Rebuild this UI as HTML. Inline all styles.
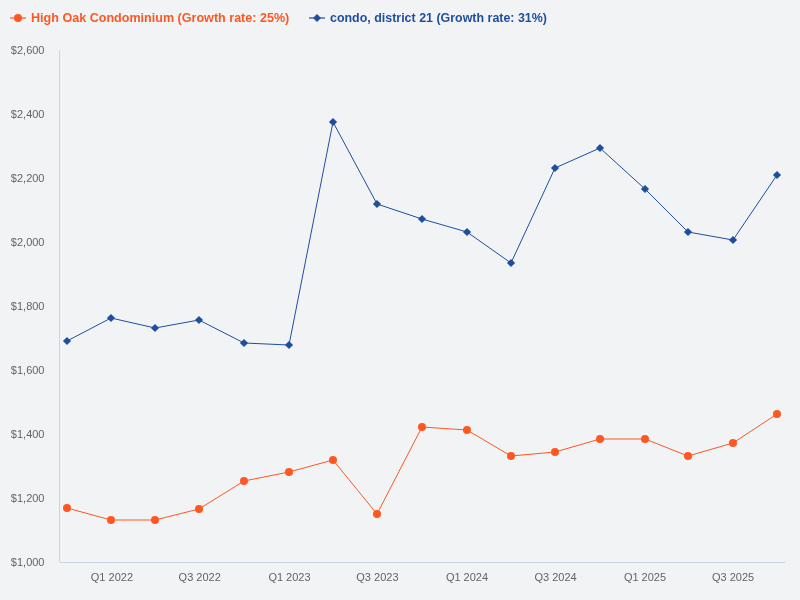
<!DOCTYPE html>
<html><head><meta charset="utf-8"><style>
html,body{margin:0;padding:0;background:#f2f3f5;width:800px;height:600px;overflow:hidden}
svg{display:block;will-change:transform}
text{font-family:"Liberation Sans",sans-serif}
</style></head><body>
<svg width="800" height="600" viewBox="0 0 800 600">
<rect width="800" height="600" fill="#f2f3f5"/>

<rect x="59" y="50" width="1" height="512" fill="#c9d3e8"/>
<rect x="60" y="562" width="725" height="1" fill="#c9d3e8"/>
<text x="44.5" y="54.0" font-size="11" fill="#606368" text-anchor="end">$2,600</text>
<text x="44.5" y="118.0" font-size="11" fill="#606368" text-anchor="end">$2,400</text>
<text x="44.5" y="182.0" font-size="11" fill="#606368" text-anchor="end">$2,200</text>
<text x="44.5" y="246.0" font-size="11" fill="#606368" text-anchor="end">$2,000</text>
<text x="44.5" y="310.0" font-size="11" fill="#606368" text-anchor="end">$1,800</text>
<text x="44.5" y="374.0" font-size="11" fill="#606368" text-anchor="end">$1,600</text>
<text x="44.5" y="438.0" font-size="11" fill="#606368" text-anchor="end">$1,400</text>
<text x="44.5" y="502.0" font-size="11" fill="#606368" text-anchor="end">$1,200</text>
<text x="44.5" y="566.0" font-size="11" fill="#606368" text-anchor="end">$1,000</text>
<text x="111.90" y="581" font-size="11" fill="#606368" text-anchor="middle">Q1 2022</text>
<text x="199.70" y="581" font-size="11" fill="#606368" text-anchor="middle">Q3 2022</text>
<text x="289.50" y="581" font-size="11" fill="#606368" text-anchor="middle">Q1 2023</text>
<text x="377.40" y="581" font-size="11" fill="#606368" text-anchor="middle">Q3 2023</text>
<text x="467.00" y="581" font-size="11" fill="#606368" text-anchor="middle">Q1 2024</text>
<text x="555.60" y="581" font-size="11" fill="#606368" text-anchor="middle">Q3 2024</text>
<text x="645.00" y="581" font-size="11" fill="#606368" text-anchor="middle">Q1 2025</text>
<text x="733.10" y="581" font-size="11" fill="#606368" text-anchor="middle">Q3 2025</text>
<polyline points="67.00,341.00 111.00,318.00 155.00,328.00 199.00,320.00 244.00,343.00 289.00,345.00 333.00,122.00 377.00,204.00 422.00,219.00 467.00,232.00 511.00,263.00 555.00,168.00 600.00,148.00 645.00,189.00 688.00,232.00 733.00,240.00 777.00,175.00" fill="none" stroke="#1f4e9f" stroke-width="1" stroke-linejoin="round"/>
<rect x="64.10" y="338.10" width="5.8" height="5.8" fill="#1f4e9f" transform="rotate(45 67.00 341.00)"/>
<rect x="108.10" y="315.10" width="5.8" height="5.8" fill="#1f4e9f" transform="rotate(45 111.00 318.00)"/>
<rect x="152.10" y="325.10" width="5.8" height="5.8" fill="#1f4e9f" transform="rotate(45 155.00 328.00)"/>
<rect x="196.10" y="317.10" width="5.8" height="5.8" fill="#1f4e9f" transform="rotate(45 199.00 320.00)"/>
<rect x="241.10" y="340.10" width="5.8" height="5.8" fill="#1f4e9f" transform="rotate(45 244.00 343.00)"/>
<rect x="286.10" y="342.10" width="5.8" height="5.8" fill="#1f4e9f" transform="rotate(45 289.00 345.00)"/>
<rect x="330.10" y="119.10" width="5.8" height="5.8" fill="#1f4e9f" transform="rotate(45 333.00 122.00)"/>
<rect x="374.10" y="201.10" width="5.8" height="5.8" fill="#1f4e9f" transform="rotate(45 377.00 204.00)"/>
<rect x="419.10" y="216.10" width="5.8" height="5.8" fill="#1f4e9f" transform="rotate(45 422.00 219.00)"/>
<rect x="464.10" y="229.10" width="5.8" height="5.8" fill="#1f4e9f" transform="rotate(45 467.00 232.00)"/>
<rect x="508.10" y="260.10" width="5.8" height="5.8" fill="#1f4e9f" transform="rotate(45 511.00 263.00)"/>
<rect x="552.10" y="165.10" width="5.8" height="5.8" fill="#1f4e9f" transform="rotate(45 555.00 168.00)"/>
<rect x="597.10" y="145.10" width="5.8" height="5.8" fill="#1f4e9f" transform="rotate(45 600.00 148.00)"/>
<rect x="642.10" y="186.10" width="5.8" height="5.8" fill="#1f4e9f" transform="rotate(45 645.00 189.00)"/>
<rect x="685.10" y="229.10" width="5.8" height="5.8" fill="#1f4e9f" transform="rotate(45 688.00 232.00)"/>
<rect x="730.10" y="237.10" width="5.8" height="5.8" fill="#1f4e9f" transform="rotate(45 733.00 240.00)"/>
<rect x="774.10" y="172.10" width="5.8" height="5.8" fill="#1f4e9f" transform="rotate(45 777.00 175.00)"/>
<polyline points="67.00,508.00 111.00,520.00 155.00,520.00 199.00,509.00 244.00,481.00 289.00,472.00 333.00,460.00 377.00,514.00 422.00,427.00 467.00,430.00 511.00,456.00 555.00,452.00 600.00,439.00 645.00,439.00 688.00,456.00 733.00,443.00 777.00,414.00" fill="none" stroke="#ff5722" stroke-width="1" stroke-linejoin="round"/>
<circle cx="67.00" cy="508.00" r="4" fill="#ff5722"/>
<circle cx="111.00" cy="520.00" r="4" fill="#ff5722"/>
<circle cx="155.00" cy="520.00" r="4" fill="#ff5722"/>
<circle cx="199.00" cy="509.00" r="4" fill="#ff5722"/>
<circle cx="244.00" cy="481.00" r="4" fill="#ff5722"/>
<circle cx="289.00" cy="472.00" r="4" fill="#ff5722"/>
<circle cx="333.00" cy="460.00" r="4" fill="#ff5722"/>
<circle cx="377.00" cy="514.00" r="4" fill="#ff5722"/>
<circle cx="422.00" cy="427.00" r="4" fill="#ff5722"/>
<circle cx="467.00" cy="430.00" r="4" fill="#ff5722"/>
<circle cx="511.00" cy="456.00" r="4" fill="#ff5722"/>
<circle cx="555.00" cy="452.00" r="4" fill="#ff5722"/>
<circle cx="600.00" cy="439.00" r="4" fill="#ff5722"/>
<circle cx="645.00" cy="439.00" r="4" fill="#ff5722"/>
<circle cx="688.00" cy="456.00" r="4" fill="#ff5722"/>
<circle cx="733.00" cy="443.00" r="4" fill="#ff5722"/>
<circle cx="777.00" cy="414.00" r="4" fill="#ff5722"/>
<rect x="10" y="17" width="16" height="2" fill="#ff5722" opacity="0.6"/>
<circle cx="18" cy="18" r="4" fill="#ff5722"/>
<text x="31" y="22" font-size="13.5" font-weight="bold" fill="#ff5722" textLength="258.3" lengthAdjust="spacingAndGlyphs">High Oak Condominium (Growth rate: 25%)</text>
<rect x="309" y="17" width="16" height="2" fill="#1f4e9f" opacity="0.6"/>
<rect x="314.2" y="15.2" width="5.6" height="5.6" fill="#1f4e9f" transform="rotate(45 317 18)"/>
<text x="330" y="22" font-size="13.5" font-weight="bold" fill="#1f4e9f" textLength="217" lengthAdjust="spacingAndGlyphs">condo, district 21 (Growth rate: 31%)</text>
</svg></body></html>
